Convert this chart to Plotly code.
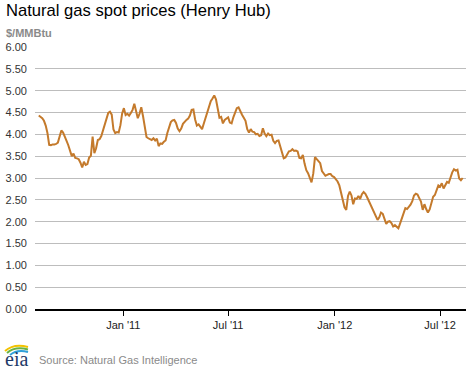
import pandas as pd
import plotly.graph_objects as go

# ---- data ----
start_date = "2010-08-08"
step_days = 3
prices = [
    4.43, 4.40, 4.37, 4.31, 4.20, 4.03, 3.76, 3.75, 3.77, 3.77,
    3.78, 3.81, 3.98, 4.09, 4.04, 3.92, 3.85, 3.75, 3.63, 3.50,
    3.56, 3.46, 3.45, 3.43, 3.35, 3.24, 3.37, 3.30, 3.32, 3.47,
    3.51, 3.95, 3.57, 3.68, 3.87, 3.89, 3.96, 4.10, 4.21, 4.35,
    4.49, 4.52, 4.45, 4.11, 4.03, 4.05, 4.04, 4.21, 4.48, 4.60,
    4.44, 4.47, 4.43, 4.49, 4.56, 4.70, 4.52, 4.37, 4.47, 4.62,
    4.42, 4.18, 3.94, 3.91, 3.89, 3.87, 3.91, 3.86, 3.90, 3.73,
    3.79, 3.78, 3.83, 3.86, 4.03, 4.16, 4.28, 4.32, 4.33, 4.26,
    4.13, 4.07, 4.13, 4.24, 4.30, 4.33, 4.36, 4.43, 4.56, 4.57,
    4.34, 4.20, 4.23, 4.18, 4.12, 4.25, 4.37, 4.50, 4.64, 4.76,
    4.82, 4.89, 4.80, 4.58, 4.38, 4.40, 4.25, 4.33, 4.37, 4.39,
    4.27, 4.25, 4.39, 4.48, 4.60, 4.62, 4.52, 4.45, 4.38, 4.31,
    4.12, 4.04, 4.12, 4.06, 4.05, 4.00, 4.01, 3.96, 3.98, 4.14,
    4.02, 3.96, 4.02, 3.98, 3.99, 3.85, 3.80, 3.85, 3.86, 3.71,
    3.58, 3.45, 3.47, 3.55, 3.61, 3.62, 3.66, 3.62, 3.63, 3.61,
    3.46, 3.45, 3.53, 3.33, 3.18, 3.11, 3.02, 2.90, 3.10, 3.48,
    3.43, 3.38, 3.34, 3.16, 3.09, 3.05, 3.07, 3.09, 3.09, 3.04,
    3.02, 2.97, 2.92, 2.83, 2.68, 2.53, 2.33, 2.27, 2.59, 2.69,
    2.60, 2.40, 2.53, 2.52, 2.59, 2.52, 2.63, 2.68, 2.64, 2.56,
    2.47, 2.38, 2.30, 2.23, 2.13, 2.04, 2.10, 2.21, 2.18, 2.05,
    1.95, 2.00, 2.01, 1.97, 1.89, 1.92, 1.88, 1.85, 1.96, 2.08,
    2.20, 2.31, 2.29, 2.34, 2.39, 2.47, 2.60, 2.64, 2.62, 2.54,
    2.46, 2.27, 2.40, 2.29, 2.21, 2.28, 2.45, 2.57, 2.61, 2.70,
    2.83, 2.80, 2.88, 2.76, 2.84, 2.91, 2.89, 3.02, 3.13, 3.20,
    3.17, 3.19, 2.99, 2.95, 3.00,
]
x_tick_dates = ["2011-01-01", "2011-07-01", "2012-01-01", "2012-07-01"]
x_tick_labels = ["Jan '11", "Jul '11", "Jan '12", "Jul '12"]
y_tick_values = [0, 0.5, 1, 1.5, 2, 2.5, 3, 3.5, 4, 4.5, 5, 5.5, 6]
title_text = "Natural gas spot prices (Henry Hub)"
unit_text = "$/MMBtu"
source_text = "Source: Natural Gas Intelligence"

dates = pd.date_range(start_date, periods=len(prices), freq=f"{step_days}D")

W, H = 470, 369
ML, MR, MT, MB = 35, 4, 47, 60
PW, PH = W - ML - MR, H - MT - MB


def px(X):
    return (X - ML) / PW


def py(Y):
    return (H - MB - Y) / PH


fig = go.Figure()
fig.add_trace(go.Scatter(
    x=dates, y=prices, mode="lines",
    line=dict(color="#c47a2c", width=2),
    hoverinfo="x+y", showlegend=False,
))

fig.update_layout(
    width=W, height=H,
    margin=dict(l=ML, r=MR, t=MT, b=MB, pad=0),
    paper_bgcolor="white", plot_bgcolor="white",
    font=dict(family="Liberation Sans, Arial, sans-serif", size=11, color="#333333"),
    showlegend=False,
)

fig.update_xaxes(
    range=["2010-08-01 12:00", "2012-08-14 18:00"],
    tickmode="array", tickvals=x_tick_dates, ticktext=x_tick_labels,
    ticks="outside", ticklen=5, tickwidth=1, tickcolor="#000000",
    showgrid=False, zeroline=False,
    showline=True, linecolor="#000000", linewidth=2,
    tickfont=dict(size=11, color="#222222"),
)
fig.update_yaxes(
    range=[0, 6.0001],
    tickmode="array", tickvals=y_tick_values,
    tickformat=".2f",
    showgrid=True, gridcolor="#bdbdbd", gridwidth=1,
    zeroline=False, showline=False,
    ticks="", ticklabelstandoff=7,
    tickfont=dict(size=11, color="#333333"),
)

annotations = [
    dict(text=title_text, x=px(4), y=py(10), xref="paper", yref="paper",
         xanchor="left", yanchor="middle", showarrow=False,
         font=dict(size=16.6, color="#000000", family="Liberation Sans, Arial, sans-serif")),
    dict(text="<b>" + unit_text + "</b>", x=px(4), y=py(33), xref="paper", yref="paper",
         xanchor="left", yanchor="middle", showarrow=False,
         font=dict(size=11, color="#8a8a8a", family="Liberation Sans, Arial, sans-serif")),
    dict(text=source_text, x=px(37), y=py(360), xref="paper", yref="paper",
         xanchor="left", yanchor="middle", showarrow=False,
         font=dict(size=11, color="#8a8a8a", family="Liberation Sans, Arial, sans-serif")),
    dict(text="eia", x=px(3), y=py(359), xref="paper", yref="paper",
         xanchor="left", yanchor="middle", showarrow=False,
         font=dict(size=20, color="#1f3a68", family="Liberation Serif, DejaVu Serif, serif")),
]
fig.update_layout(annotations=annotations)


def arc(x0, y0, cx, cy, x1, y1):
    return f"M {px(x0)},{py(y0)} Q {px(cx)},{py(cy)} {px(x1)},{py(y1)}"


shapes = [
    dict(type="path", xref="paper", yref="paper",
         path=arc(5, 351, 14, 343, 28, 347), line=dict(color="#f2c200", width=2)),
    dict(type="path", xref="paper", yref="paper",
         path=arc(7, 353, 15, 346, 28, 349.5), line=dict(color="#69b245", width=2)),
    dict(type="path", xref="paper", yref="paper",
         path=arc(10, 355, 17, 349, 28, 352), line=dict(color="#2f9fd8", width=2)),
]
fig.update_layout(shapes=shapes)

fig.write_html(
    "out.html",
    config={"displayModeBar": False},
    post_script="document.body.style.margin='0';document.body.style.padding='0';",
)
